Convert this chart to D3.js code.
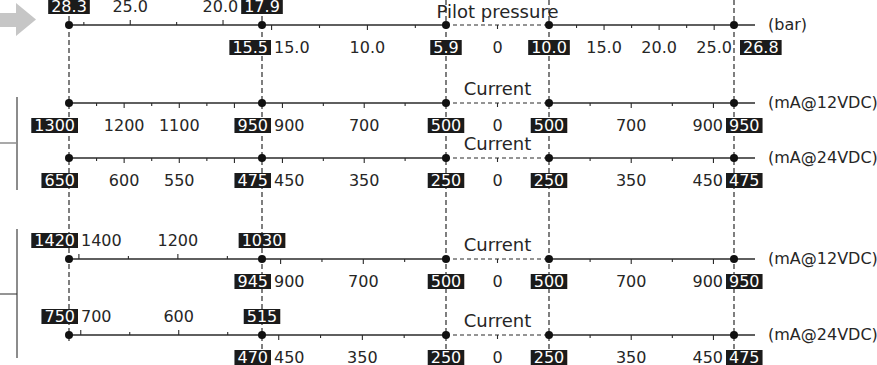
<!DOCTYPE html>
<html lang="en">
<head>
    <meta charset="utf-8">
    <title>Pilot pressure vs current</title>
    <script type="text/javascript" src="https://d3js.org/d3.v7.min.js"></script>
    <style type="text/css">
        body { margin: 0; background: #fff; }
        text { font-family: "DejaVu Sans", Verdana, sans-serif; fill: #262626; }
        .num { font-size: 16px; }
        .box-text { font-size: 16px; fill: #fff; }
        .title { font-size: 18px; }
        .unit { font-size: 16px; }
    </style>
</head>
<body>
<svg width="877" height="365"></svg>
<script type="text/javascript">

    // axis titles and units, top to bottom
    const axisTitles = ["Pilot pressure", "Current", "Current", "Current", "Current"];
    const axisUnits = ["(bar)", "(mA@12VDC)", "(mA@24VDC)", "(mA@12VDC)", "(mA@24VDC)"];

    // value range of each scaled segment: left part, middle part, right part
    const segDomains = [
        [[28.3, 17.9], [15.5, 5.9], [10.0, 26.8]],
        [[1300, 950], [950, 500], [500, 950]],
        [[650, 475], [475, 250], [250, 475]],
        [[1420, 1030], [945, 500], [500, 950]],
        [[712, 515], [470, 250], [250, 475]]
    ];

    // tick values per segment
    const majorTicks = [
        [[25, 20], [15, 10], [15, 20, 25]],
        [[1200, 1100, 1000], [900, 700], [700, 900]],
        [[600, 550, 500], [450, 350], [350, 450]],
        [[1400, 1200], [900, 700], [700, 900]],
        [[700, 600], [450, 350], [350, 450]]
    ];
    const minorTicks = [
        [[27.5, 22.5], [12.5, 7.5], [12.5, 17.5, 22.5]],
        [[1250, 1150, 1050], [800, 600], [600, 800]],
        [[625, 575, 525], [400, 300], [300, 400]],
        [[1300, 1100], [800, 600], [600, 800]],
        [[650, 550], [400, 300], [300, 400]]
    ];

    // tick labels per segment
    const tickLabels = [
        [[25, 20], [15, 10], [15, 20, 25]],
        [[1200, 1100], [900, 700], [700, 900]],
        [[600, 550], [450, 350], [350, 450]],
        [[1400, 1200], [900, 700], [700, 900]],
        [[700, 600], [450, 350], [350, 450]]
    ];

    // highlighted values: [value, break point index, side]
    const highlights = [
        [[28.3, 0, "above"], [17.9, 1, "above"], [15.5, 1, "below"], [5.9, 2, "below"], [10.0, 3, "below"], [26.8, 4, "below"]],
        [[1300, 0, "below"], [950, 1, "below"], [500, 2, "below"], [500, 3, "below"], [950, 4, "below"]],
        [[650, 0, "below"], [475, 1, "below"], [250, 2, "below"], [250, 3, "below"], [475, 4, "below"]],
        [[1420, 0, "above"], [1030, 1, "above"], [945, 1, "below"], [500, 2, "below"], [500, 3, "below"], [950, 4, "below"]],
        [[750, 0, "above"], [515, 1, "above"], [470, 1, "below"], [250, 2, "below"], [250, 3, "below"], [475, 4, "below"]]
    ];

    // label value in the dead band
    const deadBandLabel = 0;

    //layout
    const svg = d3.select("svg");
    const anchorX = d3.scaleLinear().domain([0, 1, 2, 3, 4]).range([69, 262, 446, 549, 734]);
    const axisY = [25, 103, 158, 259, 335];
    const lineEnd = 755;
    const segStart = [0, 1, 3];
    const segSide = [
        ["above", "below", "below"],
        ["below", "below", "below"],
        ["below", "below", "below"],
        ["above", "below", "below"],
        ["above", "below", "below"]
    ];
    const ink = "#2a2a2a";

    const base = (y, side) => side === "above" ? y - 13 : y + 28;

    // left brackets and arrow
    svg.append("polygon")
        .attr("points", "0,13 16,13 16,3 36,19.5 16,36 16,27 0,27")
        .style("fill", "#c6c6c6");
    svg.append("line").attr("x1", 17).attr("x2", 17).attr("y1", 97).attr("y2", 190)
        .style("stroke", "#8c8c8c").style("stroke-width", 2);
    svg.append("line").attr("x1", 0).attr("x2", 17).attr("y1", 143).attr("y2", 143)
        .style("stroke", "#8c8c8c").style("stroke-width", 1.5);
    svg.append("line").attr("x1", 17).attr("x2", 17).attr("y1", 229).attr("y2", 358)
        .style("stroke", "#8c8c8c").style("stroke-width", 2);
    svg.append("line").attr("x1", 0).attr("x2", 17).attr("y1", 294).attr("y2", 294)
        .style("stroke", ink).style("stroke-width", 1);

    // dashed guides
    const guideBottom = [341, 350, 352, 352, 352];
    svg.selectAll(".guide")
        .data([0, 1, 2, 3, 4])
        .join("line")
        .attr("class", "guide")
        .attr("x1", d => anchorX(d)).attr("x2", d => anchorX(d))
        .attr("y1", 0).attr("y2", d => guideBottom[d])
        .style("stroke", ink).style("stroke-width", 1.2)
        .style("stroke-dasharray", "5,3");

    const lineLayer = svg.append("g");
    const boxLayer = svg.append("g");
    const textLayer = svg.append("g");

    axisTitles.forEach((title, i) => {
        const y = axisY[i];
        const fmt = i === 0 ? d3.format(".1f") : d3.format("d");

        // axis line, dashed over the dead band
        lineLayer.append("line").attr("x1", anchorX(0)).attr("x2", anchorX(2)).attr("y1", y).attr("y2", y)
            .style("stroke", ink).style("stroke-width", 1.3);
        lineLayer.append("line").attr("x1", anchorX(2)).attr("x2", anchorX(3)).attr("y1", y).attr("y2", y)
            .style("stroke", ink).style("stroke-width", 1.2).style("stroke-dasharray", "4,3");
        lineLayer.append("line").attr("x1", anchorX(3)).attr("x2", lineEnd).attr("y1", y).attr("y2", y)
            .style("stroke", ink).style("stroke-width", 1.3);

        // highlighted values in black boxes
        const boxes = [];
        highlights[i].forEach(([v, a, side]) => {
            const lx = anchorX(a);
            let anchor = "middle", tx = lx;
            if (a === 4) {
                anchor = "start";
                tx = i === 0 ? lx + 9 : lx - 5;
            } else if (a <= 1) {
                if (side === "below" || (a === 0 && i !== 0)) {
                    anchor = "end";
                    tx = lx + 6;
                }
            }
            const by = base(y, side);
            const t = textLayer.append("text")
                .attr("class", "box-text")
                .attr("x", tx).attr("y", by)
                .attr("text-anchor", anchor)
                .text(fmt(v));
            const bb = t.node().getBBox();
            const b = {x0: bb.x - 3, x1: bb.x + bb.width + 3, side: side};
            boxes.push(b);
            boxLayer.append("rect")
                .attr("x", b.x0).attr("width", b.x1 - b.x0)
                .attr("y", by - 13).attr("height", 15)
                .style("fill", "#1b1b1b");
        });

        // place a plain label, pushed clear of any box on the same side
        function plainLabel(cx, side, str) {
            const t = textLayer.append("text")
                .attr("class", "num")
                .attr("y", base(y, side))
                .attr("text-anchor", "middle")
                .text(str);
            const w = t.node().getComputedTextLength();
            let left = cx - w / 2;
            boxes.filter(b => b.side === side).forEach(b => {
                if (left < b.x1 + 3 && left + w > b.x0 - 3) {
                    if (cx >= (b.x0 + b.x1) / 2) left = b.x1 + 3;
                    else left = b.x0 - 3 - w;
                }
            });
            t.attr("x", left + w / 2);
        }

        // scaled segments
        segDomains[i].forEach((dom, k) => {
            const a = segStart[k];
            const x = d3.scaleLinear().domain(dom).range([anchorX(a), anchorX(a + 1)]);
            const side = segSide[i][k];
            const dir = side === "above" ? -1 : 1;

            lineLayer.selectAll(null)
                .data(majorTicks[i][k])
                .join("line")
                .attr("x1", d => x(d)).attr("x2", d => x(d))
                .attr("y1", y).attr("y2", y + dir * 5)
                .style("stroke", ink).style("stroke-width", 1.1);
            lineLayer.selectAll(null)
                .data(minorTicks[i][k])
                .join("line")
                .attr("x1", d => x(d)).attr("x2", d => x(d))
                .attr("y1", y).attr("y2", y + dir * 3)
                .style("stroke", ink).style("stroke-width", 1.1);

            tickLabels[i][k].forEach(v => plainLabel(x(v), side, fmt(v)));
        });

        // dead band: centre tick and zero
        lineLayer.append("line")
            .attr("x1", anchorX(2.5)).attr("x2", anchorX(2.5))
            .attr("y1", y).attr("y2", y + 4)
            .style("stroke", ink).style("stroke-width", 1.1);
        plainLabel(anchorX(2.5), "below", String(deadBandLabel));

        // break point dots
        lineLayer.selectAll(null)
            .data([0, 1, 2, 3, 4])
            .join("circle")
            .attr("cx", d => anchorX(d)).attr("cy", y).attr("r", 4)
            .style("fill", "#111");

        // title and unit
        textLayer.append("text")
            .attr("class", "title")
            .attr("x", anchorX(2.5)).attr("y", y - (i === 0 ? 7 : 8))
            .attr("text-anchor", "middle")
            .text(title);
        textLayer.append("text")
            .attr("class", "unit")
            .attr("x", 768).attr("y", y)
            .attr("dominant-baseline", "middle")
            .text(axisUnits[i]);
    });

</script>
</body>
</html>
